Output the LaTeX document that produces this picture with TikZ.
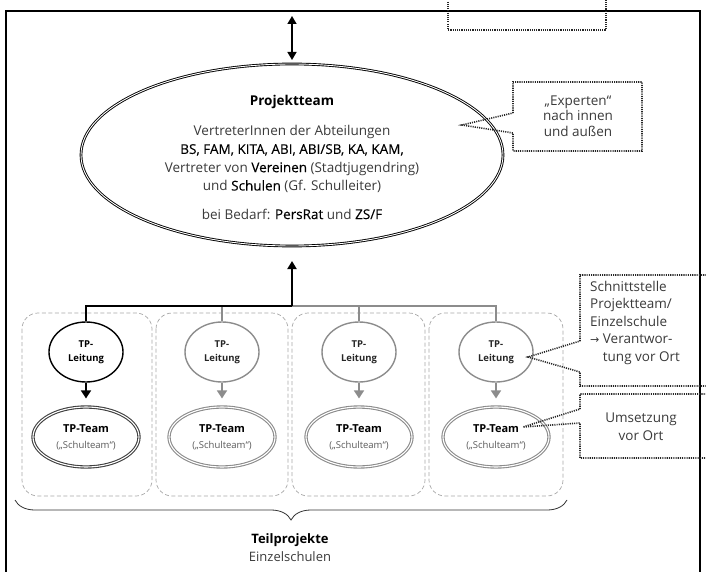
\documentclass[tikz,border=0pt]{standalone}
\usepackage{fontspec}
\setmainfont{Open Sans}
\newfontfamily\dejavu{DejaVu Sans}
\newfontfamily\medfont[FakeBold=0.15]{Open Sans}
\usetikzlibrary{arrows.meta,decorations.pathreplacing,shapes.geometric}
\definecolor{tpgray}{HTML}{8C8C8C}
\definecolor{boxgray}{HTML}{A6A6A6}
\definecolor{txt}{HTML}{3A3A3A}
\newcommand{\emw}[1]{{\medfont\color{black}#1}}
\begin{document}
\begin{tikzpicture}[x=1pt,y=-1pt,
  font=\fontsize{13.5}{17}\selectfont,
  dotbox/.style={line width=1.6pt, dash pattern=on 1.1pt off 1.1pt, black!85},
  tplead/.style={ellipse, draw, line width=1.4pt, minimum width=74pt, minimum height=60pt,
    inner sep=0pt, align=center, font=\fontsize{9.5}{14.5}\selectfont\bfseries},
  tpteam/.style={ellipse, draw, double=white, double distance=1.1pt, line width=1.1pt,
    minimum width=106pt, minimum height=60pt, inner sep=0pt, align=center},
  schoolbox/.style={draw=boxgray, dash pattern=on 4pt off 2.5pt, rounded corners=16pt, line width=0.7pt},
  arr/.style={-{Triangle[width=9pt,length=8pt]}, line width=1.8pt},
  leadarr/.style={-{Triangle[width=10pt,length=8pt]}, line width=1.5pt},
  calltext/.style={font=\fontsize{13.5}{17.5}\selectfont, text=txt},
]
\useasboundingbox (0,0) rectangle (706,572);
\clip (0,0) rectangle (706,572);

% outer frame
\draw[line width=1.8pt] (6,11) rectangle (700,600);

% top dotted box (cut off)
\draw[dotbox] (448,-5) -- (448,30) -- (606,30) -- (606,-5);

% top double arrow
\coordinate (dtop) at (292,16);
\coordinate (dbot) at (292,60);
\draw[{Triangle[width=9pt,length=8pt]}-{Triangle[width=9pt,length=8pt]}, line width=1.6pt] (dtop) -- (dbot);

% Projektteam ellipse
\node[ellipse, draw, double=white, double distance=0.9pt, line width=0.9pt,
      minimum width=422pt, minimum height=182pt, inner sep=0pt] (pt) at (292,155) {};
\node[font=\fontsize{13.5}{16}\selectfont\bfseries] (pttitle) at (292,102) {Projektteam};
\node[align=center, font=\fontsize{13.5}{18.3}\selectfont, text=txt] (ptbody) at (292,159)
  {VertreterInnen der Abteilungen\\
   \emw{BS, FAM, KITA, ABI, ABI/SB, KA, KAM,}\\
   Vertreter von \emw{Vereinen} (Stadtjugendring)\\
   und \emw{Schulen} (Gf. Schulleiter)};
\node[font=\fontsize{13.5}{16}\selectfont, text=txt] (ptbedarf) at (292,214)
  {bei Bedarf: \emw{PersRat} und \emw{ZS/F}};

% Experten callout
\coordinate (exptip) at (462,125);
\draw[dotbox] (513,113) -- (513,82) -- (642,82) -- (642,151) -- (513,151) -- (513,133) -- (exptip) -- cycle;
\node[align=center, calltext, font=\fontsize{13.5}{15.5}\selectfont] (exptext) at (578,116)
  {„Experten“\\nach innen\\und außen};

% school boxes
\draw[schoolbox] (22,313) rectangle (152,496);
\draw[schoolbox] (156,313) rectangle (288,496);
\draw[schoolbox] (292,313) rectangle (425,496);
\draw[schoolbox] (429,313) rectangle (563,496);

% TP-Leitung nodes
\node[tplead, draw=black] (l1) at (86,352) {TP-\\Leitung};
\node[tplead, draw=tpgray, text=black!85] (l2) at (222,352) {TP-\\Leitung};
\node[tplead, draw=tpgray, text=black!85] (l3) at (359,352) {TP-\\Leitung};
\node[tplead, draw=tpgray, text=black!85] (l4) at (496,352) {TP-\\Leitung};

% TP-Team nodes
\node[tpteam, draw=black!75] (t1) at (86,437)
  {{\fontsize{11}{13}\selectfont\bfseries TP-Team}\\[-1pt]{\fontsize{9.5}{11}\selectfont\color{black!65}(„Schulteam“)}};
\node[tpteam, draw=tpgray] (t2) at (222,437)
  {{\fontsize{11}{13}\selectfont\bfseries TP-Team}\\[-1pt]{\fontsize{9.5}{11}\selectfont\color{black!65}(„Schulteam“)}};
\node[tpteam, draw=tpgray] (t3) at (359,437)
  {{\fontsize{11}{13}\selectfont\bfseries TP-Team}\\[-1pt]{\fontsize{9.5}{11}\selectfont\color{black!65}(„Schulteam“)}};
\node[tpteam, draw=tpgray] (t4) at (496,437)
  {{\fontsize{11}{13}\selectfont\bfseries TP-Team}\\[-1pt]{\fontsize{9.5}{11}\selectfont\color{black!65}(„Schulteam“)}};

% bus lines
\coordinate (bus) at (292,306);
\coordinate (uptip) at (292,261);
\draw[tpgray, line width=1.6pt] (bus) -| (l4.north);
\draw[tpgray, line width=1.6pt] (l2.north) -- (l2.north |- bus);
\draw[tpgray, line width=1.6pt] (l3.north) -- (l3.north |- bus);
\draw[line width=1.8pt] (l1.north) |- (bus);
\draw[arr] (bus) -- (uptip);

% Leitung -> Team arrows
\draw[leadarr, shorten >=8pt] (l1.south) -- (t1.north);
\draw[leadarr, tpgray, shorten >=8pt] (l2.south) -- (t2.north);
\draw[leadarr, tpgray, shorten >=8pt] (l3.south) -- (t3.north);
\draw[leadarr, tpgray, shorten >=8pt] (l4.south) -- (t4.north);

% Schnittstelle callout
\coordinate (stip) at (528,357);
\draw[dotbox] (580,341) -- (580,275) -- (712,275) -- (712,386) -- (580,386) -- (580,372) -- (stip) -- cycle;
\node[anchor=north west, align=left, calltext, inner sep=0pt] (stext) at (590,281)
  {Schnittstelle\\Projektteam/\\Einzelschule\\{\dejavu\fontsize{11}{17.5}\selectfont→} Verantwor-\\\hphantom{{\dejavu\fontsize{11}{17.5}\selectfont→} }tung vor Ort};

% Umsetzung callout
\coordinate (utip) at (523,427);
\draw[dotbox] (580,409) -- (580,394) -- (712,394) -- (712,458) -- (580,458) -- (580,423) -- (utip) -- cycle;
\node[align=center, calltext, font=\fontsize{13.5}{18}\selectfont] (utext) at (641,427)
  {Umsetzung\\vor Ort};

% brace and label
\draw[line width=0.8pt, black!80, decorate, decoration={brace, mirror, amplitude=20pt}] (15,500) -- (567,500);
\node[font=\fontsize{13}{15}\selectfont\bfseries] (teil) at (290,540) {Teilprojekte};
\node[font=\fontsize{13}{15}\selectfont, text=txt] (einz) at (290,557) {Einzelschulen};
\end{tikzpicture}
\end{document}
